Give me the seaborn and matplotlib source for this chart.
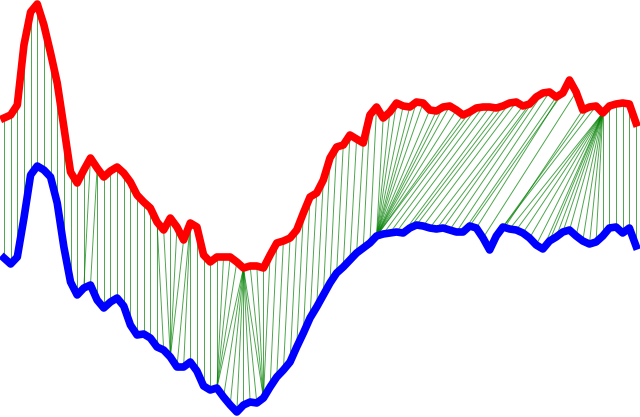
import numpy as np
import pandas as pd
import matplotlib
matplotlib.use("Agg")
import matplotlib.pyplot as plt
import seaborn as sns

# series values (upper = red, lower = blue)
red_vals = [299, 302, 312, 372, 405, 413, 392, 364, 334, 290,
            245, 234, 247, 259, 249, 240, 246, 250, 244, 235,
            222, 215, 209, 195, 187, 199, 190, 177, 194, 190,
            162, 155, 160, 160, 160, 155, 149, 151, 151, 149,
            162, 174, 176, 179, 187, 204, 220, 224, 237, 259,
            270, 272, 282, 278, 274, 302, 310, 299, 305, 314,
            311, 310, 315, 314, 307, 306, 310, 311, 307, 302,
            305, 309, 310, 310, 309, 311, 314, 315, 311, 313,
            320, 324, 325, 320, 324, 337, 325, 307, 310, 311,
            304, 311, 313, 314, 313, 294]

blue_vals = [159, 153, 160, 199, 242, 251, 247, 240, 214, 170,
             135, 122, 129, 132, 117, 109, 115, 119, 111, 92,
             82, 83, 79, 70, 67, 60, 50, 50, 55, 46,
             31, 27, 29, 20, 12, 5, 12, 15, 14, 19,
             30, 40, 47, 55, 70, 84, 99, 110, 122, 134,
             144, 150, 157, 164, 169, 174, 181, 183, 184, 185,
             184, 189, 192, 191, 189, 188, 189, 187, 185, 185,
             191, 189, 179, 167, 181, 190, 188, 187, 184, 179,
             172, 168, 176, 180, 185, 187, 181, 176, 173, 175,
             181, 189, 190, 184, 189, 171]

# warping path (red index, blue index)
path = [
    (0, 0), (1, 1), (2, 2), (3, 3), (4, 4), (5, 5), (6, 6), (7, 7), (8, 8), (9, 9),
    (10, 10), (11, 11), (12, 12), (13, 12), (14, 13), (14, 14), (15, 15), (16, 16),
    (17, 17), (18, 18), (19, 19), (20, 20), (21, 21), (22, 22), (23, 23), (23, 24),
    (24, 25), (25, 25), (26, 25), (27, 25), (28, 26), (28, 27), (28, 28), (29, 29),
    (30, 30), (31, 31), (32, 32), (33, 32), (34, 32), (35, 32), (36, 32), (36, 33),
    (36, 34), (36, 35), (36, 36), (36, 37), (36, 38), (36, 39), (37, 39), (38, 39),
    (39, 39), (40, 39), (41, 40), (42, 41), (43, 42), (44, 43), (45, 44), (46, 45),
    (47, 46), (48, 47), (49, 48), (50, 49), (51, 50), (52, 51), (53, 52), (54, 53),
    (55, 54), (56, 55), (57, 56), (58, 56), (59, 56), (60, 56), (61, 56), (62, 56),
    (63, 56), (64, 56), (65, 56), (66, 56), (67, 56), (68, 56), (69, 56), (70, 56),
    (71, 57), (72, 58), (73, 59), (74, 60), (75, 61), (76, 62), (77, 63), (78, 64),
    (79, 65), (80, 66), (81, 67), (82, 68), (83, 69), (84, 70), (85, 71), (86, 72),
    (87, 73), (88, 74), (89, 75), (90, 76), (90, 77), (90, 78), (90, 79), (90, 80),
    (90, 81), (90, 82), (90, 83), (90, 84), (90, 85), (90, 86), (90, 87), (90, 88),
    (90, 89), (90, 90), (91, 91), (92, 92), (93, 93), (94, 94), (95, 95),
]

red = np.array(red_vals)
blue = np.array(blue_vals)
t = np.arange(len(red))

# long-form table of the link segments
rows = []
for n, (i, j) in enumerate(path):
    rows.append({"seg": n, "x": i, "y": red[i]})
    rows.append({"seg": n, "x": j, "y": blue[j]})
links = pd.DataFrame(rows)

fig = plt.figure(figsize=(6.4, 4.17), dpi=100)
ax = fig.add_axes([0, 0, 1, 1])

sns.lineplot(data=links, x="x", y="y", units="seg", estimator=None, sort=False,
             color="green", lw=0.7, alpha=0.7, ax=ax, legend=False, zorder=1)
sns.lineplot(x=t, y=red, color="red", lw=5.5, ax=ax, zorder=3)
sns.lineplot(x=t, y=blue, color="blue", lw=5.5, ax=ax, zorder=3)

ax.set_xlim(-0.6, len(red) - 1 + 0.6)
ax.set_ylim(0, 417)
ax.axis("off")

fig.savefig("out.png", dpi=100)
